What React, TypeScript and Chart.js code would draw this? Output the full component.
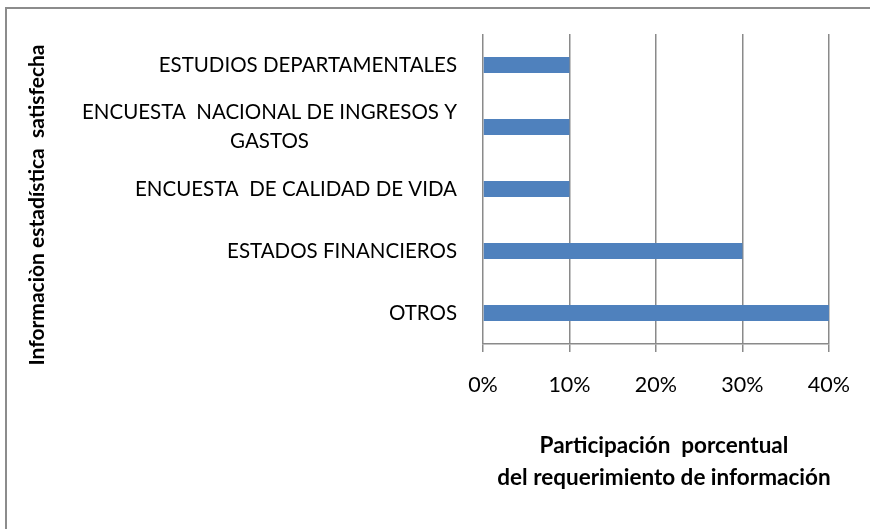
import React, { useEffect, useRef } from "react";
import { Chart, registerables } from "chart.js";

Chart.register(...registerables);

const categories: string[][] = [
  ["ESTUDIOS DEPARTAMENTALES"],
  ["ENCUESTA  NACIONAL DE INGRESOS Y", "GASTOS"],
  ["ENCUESTA  DE CALIDAD DE VIDA"],
  ["ESTADOS FINANCIEROS"],
  ["OTROS"],
];
const values: number[] = [10, 10, 10, 30, 40];
const xTitleLines: string[] = ["Participación  porcentual", "del requerimiento de información"];
const yTitle = "Informaciòn estadística  satisfecha";

const FONT = "Lato, 'Open Sans', sans-serif";

const textPlugin = {
  id: "customText",
  afterDraw(chart: any) {
    const ctx = chart.ctx as CanvasRenderingContext2D;
    const ys = chart.scales.y;
    const area = chart.chartArea;
    ctx.save();
    ctx.fillStyle = "#000";
    ctx.textBaseline = "middle";
    ctx.textAlign = "center";
    ctx.font = `20.5px ${FONT}`;
    categories.forEach((lines, i) => {
      const cy = ys.getPixelForValue(i);
      const w = Math.max(...lines.map((l) => ctx.measureText(l).width));
      const cx = area.left - 26 - w / 2;
      const lh = 29;
      lines.forEach((l, j) => {
        ctx.fillText(l, cx, cy + (j - (lines.length - 1) / 2) * lh);
      });
    });
    ctx.font = `bold 22.5px ${FONT}`;
    const tx = (area.left + area.right) / 2 + 8;
    xTitleLines.forEach((l, j) => {
      ctx.fillText(l, tx, area.bottom + 102 + j * 32);
    });
    ctx.font = `bold 21px ${FONT}`;
    ctx.translate(37, (area.top + area.bottom) / 2 + 16);
    ctx.rotate(-Math.PI / 2);
    ctx.fillText(yTitle, 0, 0);
    ctx.restore();
  },
};

export default function App() {
  const ref = useRef<HTMLCanvasElement | null>(null);
  useEffect(() => {
    if (!ref.current) return;
    const gridColor = "#8a8a8a";
    const chart = new Chart(ref.current, {
      type: "bar",
      data: {
        labels: categories.map((c) => c.join(" ")),
        datasets: [
          {
            data: values,
            backgroundColor: "#4f81bd",
            borderWidth: 0,
            barPercentage: 0.26,
            categoryPercentage: 1,
          },
        ],
      },
      options: {
        indexAxis: "y",
        animation: false,
        responsive: false,
        maintainAspectRatio: false,
        layout: { padding: { left: 0, right: 39, top: 34, bottom: 0 } },
        plugins: {
          legend: { display: false },
          tooltip: { enabled: false },
          title: { display: false },
        },
        scales: {
          x: {
            min: 0,
            max: 40,
            afterFit: (s: any) => {
              s.height = 185;
            },
            ticks: {
              stepSize: 10,
              callback: (v: any) => `${v}%`,
              color: "#000",
              font: { family: FONT, size: 21.5 },
              padding: 20,
              maxRotation: 0,
            },
            grid: {
              color: gridColor,
              lineWidth: 1.5,
              tickLength: 8,
              drawTicks: true,
            },
            border: { display: true, color: gridColor, width: 1.5 },
          },
          y: {
            afterFit: (s: any) => {
              s.width = 483;
            },
            ticks: { display: false },
            grid: { display: false, drawTicks: false },
            border: { display: false },
          },
        },
      },
      plugins: [textPlugin],
    });
    return () => chart.destroy();
  }, []);
  return (
    <div
      style={{
        position: "fixed",
        left: 0,
        top: 0,
        width: 870,
        height: 529,
        overflow: "hidden",
        background: "#fff",
      }}
    >
      <div
        style={{
          position: "absolute",
          left: 5,
          top: 7,
          width: 1000,
          height: 1000,
          borderLeft: "2px solid #8c8c8c",
          borderTop: "2px solid #8c8c8c",
        }}
      />
      <canvas
        ref={ref}
        width={870}
        height={529}
        style={{ position: "absolute", left: 0, top: 0, width: 870, height: 529 }}
      />
    </div>
  );
}
